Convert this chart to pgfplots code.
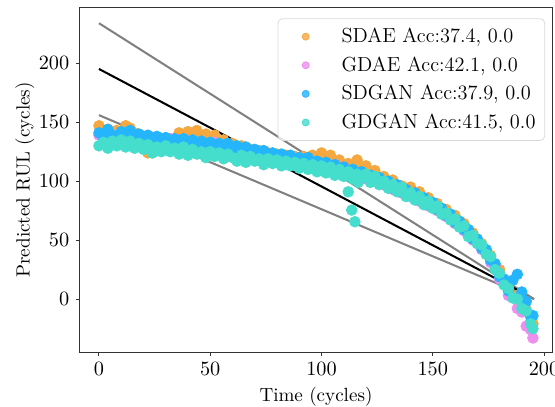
\documentclass[border=0pt]{standalone}
\usepackage{pgfplots}
\usepackage{pgfplotstable}
\pgfplotsset{compat=1.18}
\definecolor{cOrange}{HTML}{F5A840}
\definecolor{cPink}{HTML}{EE8EEE}
\definecolor{cBlue}{HTML}{25B5FC}
\definecolor{cTeal}{HTML}{45DDCC}
\definecolor{cGray}{HTML}{808080}

\pgfplotstableread{
x o p b t
0 147 139 141 130
2 143 136 137 133
4 144 141 144 128
6 140 137 139 134
8 143 139 136 130
10 139 136 142 135
12 147 140 138 129
14 145 137 143 134
16 141 138 136 128
18 132 135 140 132
20 129 138 135 127
22 124 134 139 131
24 124 137 134 124
26 126 133 138 129
28 133 136 133 125
30 135 133 137 130
32 136 136 132 125
34 135 131 136 128
36 141 135 131 123
38 139 131 136 129
40 142 134 132 122
42 140 130 135 127
44 143 133 132 123
46 137 129 134 125
48 140 132 130 120
50 135 128 133 125
52 139 133 129 121
54 133 129 132 124
56 135 126 128 119
58 130 130 132 123
60 132 125 127 120
62 126 129 130 117
64 130 124 126 122
66 125 128 129 116
68 127 123 125 121
70 124 126 127 117
72 126 123 124 119
74 121 125 126 114
76 124 120 121 119
78 121 123 124 115
80 123 119 121 118
82 118 122 123 113
84 122 117 118 117
86 117 121 122 113
88 121 116 117 116
90 116 119 120 111
92 121 114 115 115
94 115 118 120 110
96 122 113 114 114
98 119 116 117 108
100 124 112 113 113
102 121 115 116 107
104 122 110 110 112
106 115 114 114 105
108 118 109 109 110
110 112 112 112 104
112 115 106 107 108
114 113 109 110 102
116 118 104 105 106
118 112 107 108 103
120 113 102 103 106
122 107 104 105 99
124 109 100 101 104
126 102 102 103 97
128 104 97 98 100
130 98 99 100 94
132 101 93 94 97
134 95 96 97 91
136 96 90 91 95
138 94 92 93 87
140 95 87 88 90
142 89 89 90 84
144 91 83 84 87
146 85 85 86 80
148 86 79 80 83
150 80 81 82 77
152 81 75 76 79
154 75 76 77 72
156 76 70 71 73
158 69 71 72 67
160 71 64 65 68
162 64 65 66 61
164 64 58 59 62
166 56 58 59 53
168 56 50 51 54
170 48 50 51 47
172 47 42 43 46
174 38 41 42 38
176 37 31 33 36
178 27 28 30 25
180 25 17 19 22
182 15 14 17 12
184 12 3 7 9
186 3 1 16 1
188 3 -8 21 0
190 -7 -11 6 -8
192 -9 -23 -2 -10
194 -19 -26 -15 -21
195 -21 -33 -14 -25
}\rul

\pgfplotstableread{
x t
112 91
113.6 75.5
115 65.6
116.5 99
}\tealout

\begin{document}
\begin{tikzpicture}
\begin{axis}[
  scale only axis,
  width=255.6pt, height=186.3pt,
  xmin=-8.85, xmax=203.9,
  ymin=-45.2, ymax=247.5,
  xtick={0,50,100,150,200},
  ytick={0,50,100,150,200},
  tick align=outside,
  xtick pos=left, ytick pos=left,
  major tick length=1.9pt,
  tick label style={font=\fontsize{10.8}{13}\selectfont},
  label style={font=\fontsize{10.3}{12.4}\selectfont},
  axis line style={black!80, line width=0.55pt},
  every tick/.style={black!80, line width=0.55pt},
  xlabel={Time (cycles)},
  ylabel={Predicted RUL (cycles)},
  xlabel style={at={(axis description cs:0.5,-0.0832)}, anchor=north},
  ylabel style={at={(axis description cs:-0.1147,0.5)}, anchor=center},
  legend cell align=left,
  legend image code/.code={\path[draw=none,fill=none] (0,0) -- (1.03cm,0); \fill[#1] (0.42cm,0cm) circle (1.9pt);},
  legend style={at={(0.984,0.968)}, anchor=north east, draw=black!15, rounded corners=2.5pt,
    fill=white, fill opacity=0.8, text opacity=1, row sep=2.1pt, inner xsep=3pt, inner ysep=3pt,
    font=\fontsize{11}{13.2}\selectfont},
]
\addplot[only marks, mark=*, mark size=2.9pt, color=cOrange, mark options={draw=none, fill=cOrange}] table[x=x,y=o] {\rul};
\addlegendentry{SDAE Acc:37.4, 0.0}
\addplot[only marks, mark=*, mark size=2.9pt, color=cPink, mark options={draw=none, fill=cPink}] table[x=x,y=p] {\rul};
\addlegendentry{GDAE Acc:42.1, 0.0}
\addplot[only marks, mark=*, mark size=2.9pt, color=cBlue, mark options={draw=none, fill=cBlue}] table[x=x,y=b] {\rul};
\addlegendentry{SDGAN Acc:37.9, 0.0}
\addplot[only marks, mark=*, mark size=2.9pt, color=cTeal, mark options={draw=none, fill=cTeal}] table[x=x,y=t] {\rul};
\addlegendentry{GDGAN Acc:41.5, 0.0}
\addplot[only marks, mark=*, mark size=2.9pt, color=cTeal, mark options={draw=none, fill=cTeal}, forget plot] table[x=x,y=t] {\tealout};
\addplot[cGray, line width=1.1pt, forget plot] coordinates {(0,234) (195.5,0)};
\addplot[cGray, line width=1.1pt, forget plot] coordinates {(0,156) (195.5,0)};
\addplot[black, line width=1.1pt, forget plot] coordinates {(0,195.2) (190.8,5)};
\end{axis}
\pgfresetboundingbox
\path[use as bounding box] ([shift={(-42.8pt,-29.0pt)}]current axis.south west) rectangle ([shift={(1.24pt,3.94pt)}]current axis.north east);
\end{tikzpicture}
\end{document}
